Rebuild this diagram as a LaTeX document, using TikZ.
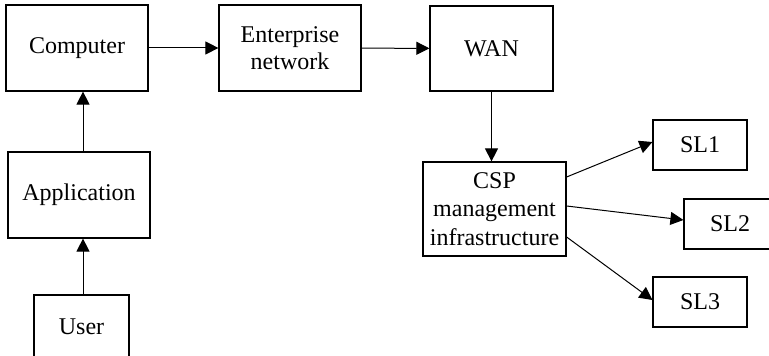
\documentclass[tikz,border=0pt]{standalone}
\usepackage{fontspec}
\setmainfont{Liberation Serif}
\usetikzlibrary{arrows.meta, positioning}

\tikzset{
  blockbox/.style={draw, line width=0.6pt, align=center, inner sep=1pt, font=\fontsize{12}{13.5}\selectfont},
  flowarrow/.style={-{Triangle[length=6.5pt, width=6.5pt]}, line width=0.5pt}
}

\begin{document}
\begin{tikzpicture}[x=0.5pt, y=-0.5pt]
  \useasboundingbox (0,0) rectangle (769,356);

  % top row
  \node[blockbox, minimum width=71pt, minimum height=43pt] (computer) at (77,48) {Computer};
  \node[blockbox, minimum width=71pt, minimum height=43pt] (enterprise) at (290,48) {Enterprise\\network};
  \node[blockbox, minimum width=61.5pt, minimum height=42.5pt] (wan) at (491.5,48.5) {WAN};

  % left column
  \node[blockbox, minimum width=71pt, minimum height=43pt] (application) at (79,195) {Application};
  \node[blockbox, minimum width=47.5pt, minimum height=32pt] (user) at (81.5,327) {User};

  % CSP and service levels
  \node[blockbox, minimum width=71.5pt, minimum height=47pt, font=\fontsize{12}{14.2}\selectfont] (csp) at (494.5,209) {CSP\\management\\infrastructure};
  \node[blockbox, minimum width=47pt, minimum height=25pt] (sl1) at (700,145) {SL1};
  \node[blockbox, minimum width=46pt, minimum height=25pt] (sl2) at (730,224) {SL2};
  \node[blockbox, minimum width=47pt, minimum height=25pt] (sl3) at (700,302) {SL3};

  \draw[flowarrow] (computer) -- (enterprise);
  \draw[flowarrow] (enterprise) -- (wan);
  \draw[flowarrow] (wan.south) -- (wan.south |- csp.north);
  \draw[flowarrow] ([xshift=2pt]application.north) -- ([xshift=2pt]application.north |- computer.south);
  \draw[flowarrow] ([xshift=2pt]application.south |- user.north) -- ([xshift=2pt]application.south);

  \draw[flowarrow] ([yshift=16pt]csp.east) -- ([yshift=1.5pt]sl1.west);
  \draw[flowarrow] ([yshift=1.5pt]csp.east) -- ([yshift=2pt]sl2.west);
  \draw[flowarrow] ([yshift=-14pt]csp.east) -- ([yshift=1pt]sl3.west);
\end{tikzpicture}
\end{document}
